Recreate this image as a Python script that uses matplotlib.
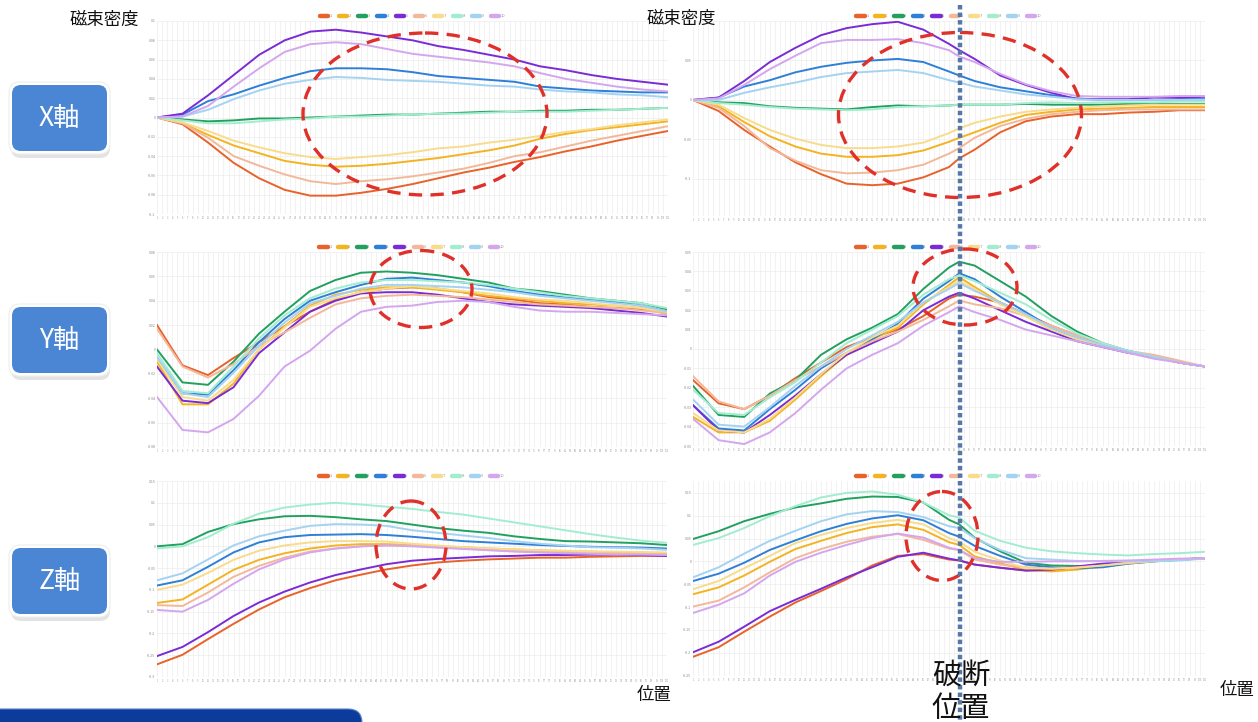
import matplotlib
matplotlib.use("Agg")
import matplotlib.pyplot as plt
from matplotlib.patches import Ellipse, FancyBboxPatch
from matplotlib.lines import Line2D

plt.rcParams['font.family'] = ['Noto Sans CJK JP', 'DejaVu Sans']

# sensor positions (intact specimen every 5 steps; broken specimen adds the fracture point 52)
positions = list(range(0, 101, 5))
positions_broken = list(range(0, 51, 5)) + [52] + list(range(55, 101, 5))
grid_positions = list(range(0, 101))
series_names = ['1', '2', '3', '4', '5', '6', '7', '8', '9', '10']
series_colors = ['#E8622A', '#F4B320', '#22A060', '#2D7FD8', '#7A2BD6',
                 '#F3B89A', '#F8DC8C', '#A2EDD0', '#A4D3F2', '#D4A6EE']

# X component, intact specimen (values in 1e-3 units)
bx_intact = [
    [0, -7, -26, -47, -63, -75, -81, -81, -78, -74, -69, -63, -57, -52, -46, -41, -35, -30, -24, -19, -14],
    [0, -6, -18, -29, -37, -45, -49, -51, -50, -48, -45, -42, -38, -34, -29, -22, -17, -13, -10, -7, -4],
    [0, -2, -4, -3, -1, -1, 0, 1, 2, 3, 3, 4, 5, 6, 6, 7, 7, 8, 8, 9, 10],
    [0, 3, 17, 24, 33, 41, 48, 51, 51, 50, 47, 43, 41, 39, 37, 32, 30, 28, 27, 26, 26],
    [0, 4, 23, 44, 65, 80, 89, 91, 88, 84, 80, 74, 70, 65, 60, 53, 49, 44, 40, 37, 34],
    [0, -6, -21, -40, -50, -59, -66, -69, -66, -64, -61, -57, -53, -47, -40, -36, -30, -24, -19, -14, -9],
    [0, -5, -14, -24, -31, -37, -41, -43, -41, -39, -36, -32, -30, -26, -23, -19, -15, -12, -8, -5, -2],
    [0, -3, -6, -6, -4, -2, -1, 1, 1, 2, 3, 4, 4, 5, 6, 6, 6, 7, 8, 9, 10],
    [0, 1, 8, 19, 28, 35, 39, 42, 41, 39, 38, 37, 35, 33, 32, 29, 27, 26, 24, 23, 21],
    [0, 1, 12, 32, 51, 68, 76, 78, 76, 71, 66, 63, 60, 57, 53, 46, 40, 36, 32, 29, 27],
]

# X component, broken specimen
bx_broken = [
    [0, -14, -38, -59, -79, -94, -106, -108, -106, -98, -85, -74, -63, -41, -27, -21, -18, -18, -16, -15, -13, -13],
    [0, -8, -28, -46, -59, -68, -72, -72, -70, -64, -53, -48, -41, -29, -19, -15, -12, -11, -10, -9, -9, -9],
    [0, -3, -4, -8, -10, -11, -12, -9, -7, -8, -7, -6, -6, -6, -5, -6, -6, -6, -5, -5, -5, -5],
    [0, 3, 17, 25, 35, 42, 47, 50, 52, 48, 36, 31, 24, 16, 11, 6, 2, 0, 0, 0, 1, 1],
    [0, 3, 24, 48, 66, 82, 91, 96, 99, 89, 71, 63, 52, 31, 19, 9, 1, 1, 1, 3, 3, 4],
    [0, -10, -33, -61, -77, -89, -93, -92, -89, -82, -68, -61, -48, -33, -24, -18, -15, -13, -12, -12, -12, -12],
    [0, -6, -23, -38, -49, -57, -61, -61, -59, -54, -42, -36, -29, -21, -15, -12, -10, -8, -7, -6, -6, -6],
    [0, -4, -6, -9, -11, -12, -13, -12, -9, -8, -7, -6, -6, -6, -4, -3, -4, -3, -3, -3, -2, -2],
    [0, 0, 9, 16, 22, 29, 34, 36, 38, 34, 25, 22, 17, 12, 7, 4, 1, 0, 0, 0, 0, 0],
    [0, 2, 19, 39, 56, 72, 76, 76, 77, 72, 63, 55, 48, 33, 20, 11, 5, 4, 4, 4, 5, 5],
]

# Y component, intact specimen
by_intact = [
    [20, -13, -21, -7, 6, 19, 31, 41, 47, 50, 51, 50, 47, 43, 41, 38, 37, 35, 34, 33, 31],
    [-10, -45, -45, -28, 0, 19, 36, 45, 49, 51, 51, 49, 47, 44, 42, 40, 38, 37, 36, 34, 29],
    [0, -27, -29, -10, 13, 31, 48, 57, 63, 64, 63, 61, 58, 55, 50, 48, 45, 42, 40, 38, 33],
    [-7, -36, -37, -17, 6, 25, 40, 47, 53, 58, 59, 57, 55, 52, 48, 45, 43, 41, 39, 36, 31],
    [-14, -42, -44, -31, -3, 14, 31, 40, 46, 47, 47, 45, 42, 39, 37, 36, 35, 34, 32, 30, 27],
    [17, -14, -23, -12, 3, 14, 26, 37, 42, 44, 45, 44, 43, 41, 39, 37, 36, 35, 34, 32, 30],
    [-8, -39, -42, -25, 0, 18, 35, 42, 47, 50, 52, 50, 48, 46, 43, 41, 40, 38, 36, 34, 31],
    [-3, -34, -36, -14, 9, 28, 42, 50, 55, 57, 57, 56, 55, 53, 50, 47, 44, 42, 40, 38, 34],
    [-6, -36, -39, -19, 3, 22, 38, 44, 50, 53, 53, 52, 51, 49, 47, 44, 42, 40, 38, 36, 31],
    [-39, -66, -68, -57, -38, -14, -1, 17, 31, 35, 36, 39, 40, 39, 35, 32, 31, 31, 30, 29, 28],
]

# Y component, broken specimen
by_broken = [
    [-16, -28, -31, -24, -15, -7, 1, 6, 10, 17, 26, 28, 27, 24, 18, 12, 7, 2, -1, -4, -7, -9],
    [-35, -43, -43, -37, -26, -14, -3, 5, 11, 23, 33, 37, 32, 24, 17, 10, 5, 2, -1, -4, -7, -9],
    [-19, -34, -35, -23, -16, -3, 5, 11, 18, 31, 42, 45, 43, 35, 27, 17, 9, 3, -1, -4, -7, -9],
    [-29, -41, -42, -31, -21, -10, -2, 5, 13, 26, 35, 39, 36, 27, 19, 11, 5, 2, -1, -4, -7, -9],
    [-29, -42, -43, -34, -24, -13, -3, 3, 9, 20, 27, 29, 26, 20, 14, 9, 4, 1, -2, -4, -7, -9],
    [-14, -27, -31, -24, -16, -9, -2, 4, 9, 15, 22, 25, 23, 21, 17, 12, 7, 3, -1, -3, -6, -9],
    [-33, -42, -43, -36, -25, -13, -2, 6, 12, 24, 32, 35, 31, 23, 17, 10, 5, 2, -1, -4, -7, -9],
    [-21, -33, -34, -25, -17, -7, 3, 10, 17, 28, 36, 38, 35, 29, 23, 15, 8, 3, -1, -4, -7, -9],
    [-26, -39, -40, -30, -19, -9, 0, 7, 14, 24, 31, 34, 30, 24, 18, 11, 6, 2, -1, -4, -7, -9],
    [-36, -47, -49, -43, -33, -21, -10, -3, 3, 12, 19, 22, 19, 15, 10, 7, 4, 1, -2, -5, -7, -9],
]

# Z component, intact specimen
bz_intact = [
    [-271, -249, -213, -178, -145, -117, -96, -78, -65, -53, -44, -37, -33, -30, -28, -26, -26, -24, -23, -22, -22],
    [-130, -122, -88, -54, -31, -16, -5, 2, 5, 5, 3, 0, -2, -5, -7, -9, -11, -12, -14, -15, -16],
    [0, 5, 33, 51, 62, 69, 70, 67, 62, 58, 50, 42, 36, 31, 23, 17, 12, 11, 9, 7, 3],
    [-90, -78, -47, -14, 9, 21, 26, 27, 28, 26, 22, 17, 12, 9, 6, 3, 1, -1, -2, -3, -5],
    [-252, -231, -197, -160, -129, -104, -83, -66, -53, -41, -33, -29, -26, -23, -22, -20, -20, -19, -19, -20, -22],
    [-135, -137, -106, -70, -45, -26, -12, -5, 0, 2, 2, -2, -5, -8, -11, -12, -14, -16, -16, -17, -18],
    [-100, -88, -61, -31, -10, 2, 9, 12, 12, 11, 6, 2, -2, -5, -7, -9, -10, -12, -12, -13, -14],
    [-5, 0, 21, 52, 75, 89, 96, 100, 96, 91, 86, 79, 73, 64, 55, 46, 37, 28, 20, 13, 8],
    [-78, -62, -30, 2, 23, 36, 47, 51, 50, 47, 37, 31, 25, 19, 12, 6, 2, -2, -3, -5, -8],
    [-146, -150, -123, -86, -53, -30, -14, -5, 0, 2, 0, -3, -6, -9, -12, -14, -16, -17, -19, -19, -20],
]

# Z component, broken specimen
bz_broken = [
    [-209, -188, -154, -121, -90, -65, -39, -9, 12, 16, 4, 2, -7, -14, -20, -20, -13, -6, -1, 1, 4, 7],
    [-72, -57, -31, -1, 27, 45, 62, 75, 81, 69, 42, 36, 11, -4, -19, -22, -18, -11, -5, 0, 4, 7],
    [49, 66, 88, 104, 118, 127, 137, 142, 141, 129, 91, 81, 52, 22, -3, -9, -10, -10, -2, 1, 3, 7],
    [-43, -27, -3, 25, 46, 66, 82, 94, 101, 90, 62, 54, 34, 12, -7, -13, -15, -13, -5, 0, 4, 7],
    [-199, -176, -143, -109, -84, -60, -35, -13, 10, 19, 6, 2, -7, -14, -20, -18, -11, -5, -1, 1, 4, 7],
    [-99, -86, -57, -24, 7, 27, 43, 54, 60, 47, 28, 25, 4, -7, -13, -16, -13, -9, -4, 0, 4, 7],
    [-61, -43, -15, 12, 40, 58, 73, 84, 91, 81, 51, 43, 21, 2, -15, -16, -14, -9, -3, 1, 4, 7],
    [36, 51, 73, 99, 121, 140, 150, 153, 146, 129, 101, 96, 67, 45, 30, 22, 18, 15, 13, 16, 18, 21],
    [-35, -13, 17, 45, 67, 88, 103, 110, 108, 97, 77, 73, 51, 25, 7, 4, 1, 0, 0, 0, 2, 6],
    [-113, -95, -70, -31, -1, 19, 36, 51, 61, 52, 30, 25, 7, -1, -1, 0, 0, 1, 2, 4, 6, 7],
]

W, H = 1258, 722
fig = plt.figure(figsize=(W / 100, H / 100), dpi=100)
fig.patch.set_facecolor('white')


def draw_panel(rect, xs, data, ylim, yticks):
    l, t, r, b = rect
    ax = fig.add_axes([l / W, 1 - b / H, (r - l) / W, (b - t) / H])
    for vals, color in zip(data, series_colors):
        ax.plot(xs, vals, color=color, lw=1.4, solid_joinstyle='round')
    ax.set_xlim(0, 100)
    ax.set_ylim(*ylim)
    ax.set_yticks(yticks)
    ax.set_yticklabels([f"{v / 1000:g}" for v in yticks], fontsize=2.6, color='#8a8a8a')
    ax.set_xticks(grid_positions)
    ax.set_xticklabels([str(p + 1) for p in grid_positions], fontsize=1.8, color='#9a9a9a')
    ax.tick_params(length=0, pad=1.2)
    ax.grid(True, color='#ededed', lw=0.5)
    ax.set_axisbelow(True)
    for s in ax.spines.values():
        s.set_visible(False)
    handles = [Line2D([0], [0], color=c, lw=3.2, solid_capstyle='round') for c in series_colors]
    ax.legend(handles, series_names, loc='lower center', bbox_to_anchor=(0.5, 1.0), ncol=10,
              frameon=False, fontsize=3, handlelength=2.0, handletextpad=0.4,
              columnspacing=1.6, borderaxespad=0.3, labelcolor='#999999')
    return ax


draw_panel((157, 21, 668, 214), positions, bx_intact, (-100, 100), list(range(-100, 101, 20)))
draw_panel((693, 21, 1205, 216), positions_broken, bx_broken, (-147, 100), list(range(-100, 101, 50)))
draw_panel((157, 252, 667, 447), positions, by_intact, (-80, 80), list(range(-80, 81, 20)))
draw_panel((693, 252, 1205, 446), positions_broken, by_broken, (-50, 50), list(range(-50, 51, 10)))
draw_panel((157, 481, 667, 677), positions, bz_intact, (-300, 150), list(range(-300, 151, 50)))
draw_panel((693, 481, 1205, 676), positions_broken, bz_broken, (-251, 176), list(range(-250, 151, 50)))

# overlay in pixel coordinates for annotations
ov = fig.add_axes([0, 0, 1, 1], zorder=10)
ov.set_xlim(0, W)
ov.set_ylim(H, 0)
ov.axis('off')

# component badges
for label, yc in [('X軸', 118), ('Y軸', 340), ('Z軸', 581)]:
    x0, y0, w, h = 12, yc - 33, 95, 66
    ov.add_patch(FancyBboxPatch((x0 - 1, y0 + 3), w + 4, h + 4, boxstyle='round,pad=0,rounding_size=10',
                                fc='#d8d8d8', ec='none', alpha=0.7))
    ov.add_patch(FancyBboxPatch((x0 - 3, y0 - 3), w + 6, h + 6, boxstyle='round,pad=0,rounding_size=11',
                                fc='white', ec='#eeeeee', lw=0.8))
    ov.add_patch(FancyBboxPatch((x0, y0), w, h, boxstyle='round,pad=0,rounding_size=9',
                                fc='#4A86D4', ec='none'))
    ov.text(x0 + w / 2, yc, label, color='white', fontsize=19, ha='center', va='center')

# bottom banner
ov.add_patch(FancyBboxPatch((-20, 709), 382, 40, boxstyle='round,pad=0,rounding_size=14',
                            fc='#0B3C9C', ec='#5A7FC8', lw=0.8))

# highlighted regions
for cx, cy, w, h in [(425, 114, 244, 162), (960, 115, 243, 165), (421, 289, 102, 77),
                     (965, 287, 104, 76), (411, 545, 70, 88), (942, 536, 72, 89)]:
    ov.add_patch(Ellipse((cx, cy), w, h, fill=False, ec='#E0302A', lw=2.4, ls=(0, (4, 2.5))))

# fracture position marker
ov.plot([960, 960], [5, 722], color='#5577AA', lw=3.2, ls=(0, (1, 0.7)))

# axis titles
ov.text(104, 20, '磁束密度', fontsize=12.5, ha='center', va='center', color='#111111')
ov.text(681, 19, '磁束密度', fontsize=12.5, ha='center', va='center', color='#111111')
ov.text(654, 695, '位置', fontsize=12.5, ha='center', va='center', color='#111111')
ov.text(1237, 690, '位置', fontsize=12.5, ha='center', va='center', color='#111111')
ov.text(961, 676, '破断', fontsize=21, ha='center', va='center', color='#111111')
ov.text(961, 709, '位置', fontsize=21, ha='center', va='center', color='#111111')

fig.savefig('out.png', dpi=100, facecolor='white')
